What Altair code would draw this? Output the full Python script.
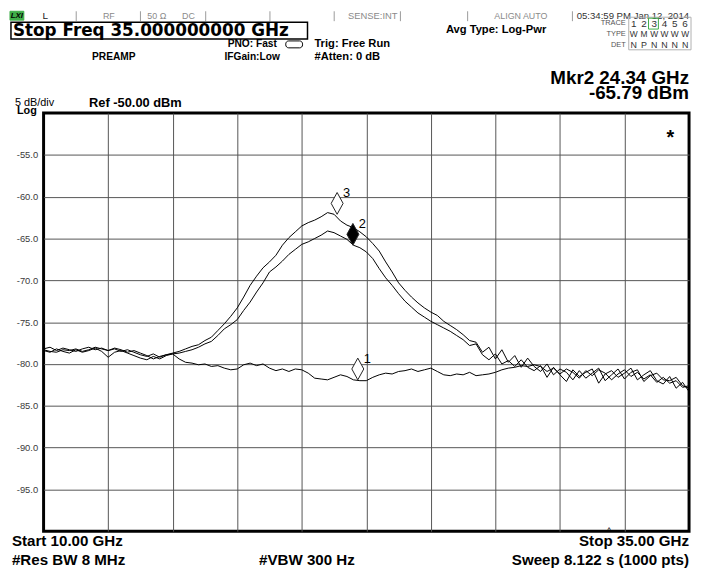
import altair as alt
import pandas as pd

FREQ_GHZ = [
    10.0, 10.25, 10.5, 10.75,
    11.0, 11.25, 11.5, 11.75,
    12.0, 12.25, 12.5, 12.75,
    13.0, 13.25, 13.5, 13.75,
    14.0, 14.25, 14.5, 14.75,
    15.0, 15.25, 15.5, 15.75,
    16.0, 16.25, 16.5, 16.75,
    17.0, 17.25, 17.5, 17.75,
    18.0, 18.25, 18.5, 18.75,
    19.0, 19.25, 19.5, 19.75,
    20.0, 20.25, 20.5, 20.75,
    21.0, 21.25, 21.5, 21.75,
    22.0, 22.25, 22.5, 22.75,
    23.0, 23.25, 23.5, 23.75,
    24.0, 24.25, 24.5, 24.75,
    25.0, 25.25, 25.5, 25.75,
    26.0, 26.25, 26.5, 26.75,
    27.0, 27.25, 27.5, 27.75,
    28.0, 28.25, 28.5, 28.75,
    29.0, 29.25, 29.5, 29.75,
    30.0, 30.25, 30.5, 30.75,
    31.0, 31.25, 31.5, 31.75,
    32.0, 32.25, 32.5, 32.75,
    33.0, 33.25, 33.5, 33.75,
    34.0, 34.25, 34.5, 34.75,
    35.0,
]

TRACE1 = [
    -78.3, -78.5, -78.6, -78.3,
    -78.4, -78.2, -78.5, -78.3,
    -78.0, -78.2, -78.4, -78.1,
    -78.3, -78.6, -78.4, -78.7,
    -79.0, -79.4, -79.1, -78.9,
    -78.8, -79.4, -79.8, -79.9,
    -80.1, -80.0, -80.3, -80.2,
    -80.5, -80.7, -80.6, -80.1,
    -79.9, -80.2, -80.0, -80.5,
    -80.8, -80.6, -80.9, -80.6,
    -80.7, -81.1, -81.7, -81.8,
    -81.9, -81.6, -81.3, -81.5,
    -81.9, -82.0, -82.0, -81.6,
    -81.3, -81.1, -81.2, -80.9,
    -80.8, -80.6, -80.9, -80.7,
    -80.5, -80.9, -81.3, -81.4,
    -81.2, -81.3, -81.0, -81.4,
    -81.3, -81.2, -81.0, -80.7,
    -80.5, -80.4, -80.2, -80.3,
    -80.1, -80.3, -80.9, -80.5,
    -81.2, -80.6, -81.0, -81.7,
    -80.8, -81.4, -80.7, -81.1,
    -81.9, -81.2, -80.7, -81.5,
    -81.0, -81.8, -81.3, -82.2,
    -81.6, -82.3, -82.0, -82.8,
    -82.6,
]

TRACE2 = [
    -78.4, -78.6, -78.2, -78.5,
    -78.7, -78.3, -78.6, -78.4,
    -78.1, -78.5, -79.2, -78.6,
    -78.4, -78.7, -79.0, -79.3,
    -79.5, -79.1, -79.4, -79.0,
    -78.8, -78.7, -78.5, -78.3,
    -78.0, -77.6, -77.3, -76.6,
    -75.8, -75.3, -74.7, -73.6,
    -72.6, -71.4, -70.3, -69.0,
    -68.4, -67.7, -66.9, -66.3,
    -65.7, -65.4, -65.0, -64.6,
    -64.1, -64.3, -64.7, -65.1,
    -65.8, -66.1, -66.6, -67.4,
    -68.6, -69.7, -70.6, -71.6,
    -72.5, -73.2, -73.9, -74.4,
    -74.9, -75.3, -75.7, -76.1,
    -76.6, -77.1, -77.8, -77.6,
    -78.9, -79.5, -78.8, -80.0,
    -79.6, -80.3, -79.5, -80.4,
    -80.8, -80.2, -81.6, -80.4,
    -81.3, -82.1, -80.7, -81.5,
    -81.0, -80.6, -82.3, -81.2,
    -80.8, -81.6, -81.1, -80.5,
    -81.9, -81.3, -80.8, -82.0,
    -82.4, -81.5, -82.9, -82.2,
    -83.3,
]

TRACE3 = [
    -78.2, -78.0, -78.4, -78.1,
    -78.3, -78.5, -78.2, -78.0,
    -78.3, -78.1, -78.4, -78.2,
    -78.5, -78.3, -78.6, -78.9,
    -79.1, -78.8, -79.2, -78.9,
    -78.7, -78.5, -78.2, -77.9,
    -77.7, -77.2, -76.8, -76.0,
    -75.2, -74.3, -73.3, -72.0,
    -70.6, -69.5, -68.5, -67.8,
    -67.0, -65.8, -64.9, -64.2,
    -63.5, -63.1, -62.8, -62.4,
    -61.9, -62.1, -62.9, -63.4,
    -63.7, -64.2, -64.8, -65.6,
    -66.5, -67.8, -69.0, -70.3,
    -71.2, -72.0, -72.7, -73.3,
    -73.8, -74.2, -74.9, -75.4,
    -75.9, -76.5, -77.2, -77.4,
    -78.6, -78.0, -79.4, -78.3,
    -79.8, -79.0, -80.4, -79.3,
    -80.3, -80.9, -80.0, -81.3,
    -80.6, -81.0, -81.9, -80.8,
    -81.7, -81.1, -80.5, -82.0,
    -81.3, -80.6, -81.8, -81.0,
    -80.7, -82.1, -81.4, -81.1,
    -81.9, -82.0, -81.6, -82.6,
    -82.9,
]

MARKER_NAMES = ["1", "2", "3"]
MARKER_FREQ = [22.17, 21.98, 21.37]
MARKER_LEVEL = [-81.9, -65.8, -62.1]
MARKER_FILL = ["white", "black", "white"]

Y_TICKS = [-55, -60, -65, -70, -75, -80, -85, -90, -95]
X_GRID = [12.5, 15.0, 17.5, 20.0, 22.5, 25.0, 27.5, 30.0, 32.5]

TRACE_NUMS = ["1", "2", "3", "4", "5", "6"]
TRACE_TYPES = ["W", "M", "W", "W", "W", "W"]
TRACE_DETS = ["N", "P", "N", "N", "N", "N"]

# ---------------- layout helpers ----------------
PX0, PY0 = 44, 111          # page position of the plot area's top-left corner
PLOT_W, PLOT_H = 653, 423
FONT = "Liberation Sans"
one = alt.InlineData(values=[{"k": 0}])


def text(s, x, y, size, weight="normal", align="left", color="#000000",
         style="normal", font=FONT):
    return alt.Chart(one).mark_text(
        text=s, align=align, baseline="middle", fontSize=size,
        fontWeight=weight, fontStyle=style, font=font, color=color,
    ).encode(x=alt.value(x - PX0), y=alt.value(y - PY0))


def vrule(x, y1, y2, color="#9a9a9a", width=1):
    return alt.Chart(one).mark_rule(color=color, strokeWidth=width).encode(
        x=alt.value(x - PX0), y=alt.value(y1 - PY0), y2=alt.value(y2 - PY0))


def box(x1, y1, x2, y2, stroke="#000000", fill="white", fill_opacity=0.0,
        width=1, radius=0):
    return alt.Chart(one).mark_rect(
        stroke=stroke, strokeWidth=width, fill=fill, fillOpacity=fill_opacity,
        cornerRadius=radius,
    ).encode(x=alt.value(x1 - PX0), x2=alt.value(x2 - PX0),
             y=alt.value(y1 - PY0), y2=alt.value(y2 - PY0))


# ---------------- traces ----------------
rows = []
for name, vals in (("Trace 1", TRACE1), ("Trace 2", TRACE2), ("Trace 3", TRACE3)):
    for f, v in zip(FREQ_GHZ, vals):
        rows.append({"freq": f, "level": v, "trace": name})
df = pd.DataFrame(rows)

mdf = pd.DataFrame({"name": MARKER_NAMES, "freq": MARKER_FREQ,
                    "level": MARKER_LEVEL, "fill": MARKER_FILL})

x_enc = alt.X("freq:Q", scale=alt.Scale(domain=[10, 35], nice=False, zero=False),
              axis=alt.Axis(values=X_GRID, labels=False, ticks=False, domain=False,
                            grid=True, gridColor="#555555", gridWidth=1, title=None))
y_enc = alt.Y("level:Q", scale=alt.Scale(domain=[-100, -50], nice=False, zero=False),
              axis=alt.Axis(values=Y_TICKS, labelExpr="'-' + format(-datum.value, '.1f')",
                            ticks=False, domain=False, grid=True, gridColor="#555555",
                            gridWidth=1, title=None, labelFont=FONT, labelFontSize=9.5,
                            labelColor="#3a3a3a", labelPadding=6))

lines = alt.Chart(df).mark_line(color="#000000", strokeWidth=1).encode(
    x=x_enc, y=y_enc, detail="trace:N")

DIAMOND = "M0,-2L0.55,-1L0,0L-0.55,-1Z"
markers = alt.Chart(mdf).mark_point(
    shape=DIAMOND, size=484, filled=True, stroke="#222222", strokeWidth=1, opacity=1
).encode(x="freq:Q", y="level:Q", fill=alt.Fill("fill:N", scale=None))

marker_labels = alt.Chart(mdf).mark_text(
    align="left", baseline="middle", dx=6, dy=-21, fontSize=13, font=FONT, color="#000000"
).encode(x="freq:Q", y="level:Q", text="name:N")

# ---------------- screen annotations ----------------
ann = []
# status bar
ann.append(box(10, 8, 24, 17, stroke="#3fae49", fill="#3fae49", fill_opacity=1))
ann.append(text("LXI", 17, 12.5, 8, weight="bold", align="center", style="italic"))
for sx in [77, 142, 208, 273, 338, 405, 473, 579]:
    ann.append(vrule(sx, 8, 18))
ann.append(text("L", 43, 13, 10, color="#222222"))
ann.append(text("RF", 104, 13, 9, color="#8a8a8a"))
ann.append(text("50 Ω", 149, 13, 9, color="#8a8a8a"))
ann.append(text("DC", 184, 13, 9, color="#8a8a8a"))
ann.append(text("SENSE:INT", 352, 13, 9.5, color="#8a8a8a"))
ann.append(text("ALIGN AUTO", 500, 13, 9, color="#8a8a8a"))
ann.append(text("05:34:59 PM Jan 12, 2014", 697, 13, 9.7, align="right", color="#333333"))

# stop-frequency entry box
ann.append(box(11, 19, 311, 36, stroke="#000000", width=1.5))
ann.append(text("Stop Freq 35.000000000 GHz", 13, 28, 17, weight="bold",
                font="DejaVu Sans"))

# acquisition settings
ann.append(text("PNO: Fast", 280, 41, 10.3, weight="bold", align="right"))
ann.append(box(289, 38, 306, 45, stroke="#000000", width=1, radius=3))
ann.append(text("PREAMP", 93, 54, 10.3, weight="bold"))
ann.append(text("IFGain:Low", 283, 54, 10.3, weight="bold", align="right"))
ann.append(text("Trig: Free Run", 318, 41, 11.3, weight="bold"))
ann.append(text("#Atten: 0 dB", 318, 54, 11.3, weight="bold"))
ann.append(text("Avg Type: Log-Pwr", 451, 27, 11.3, weight="bold"))

# trace/type/detector table
ann.append(box(636, 14, 699, 47, stroke="#b0b0b0", width=1))
ann.append(box(656, 15, 666, 26, stroke="#3fae49", width=1))
ann.append(text("TRACE", 633, 20, 7.5, align="right", color="#555555"))
ann.append(text("TYPE", 633, 31, 7.5, align="right", color="#555555"))
ann.append(text("DET", 633, 42, 7.5, align="right", color="#555555"))
for i, (n, t, d) in enumerate(zip(TRACE_NUMS, TRACE_TYPES, TRACE_DETS)):
    cx = 641 + i * 10.4
    ann.append(text(n, cx, 20.5, 10, align="center", color="#333333"))
    ann.append(text(t, cx, 31, 8.5, align="center", color="#333333"))
    ann.append(text(d, cx, 42, 9, align="center", color="#333333"))

# marker readout
ann.append(text("Mkr2 24.34 GHz", 697, 76, 19, weight="bold", align="right"))
ann.append(text("-65.79 dBm", 697, 91, 19, weight="bold", align="right"))

# scale info
ann.append(text("5 dB/div", 15, 100.5, 11))
ann.append(text("Log", 17, 109, 11, weight="bold"))
ann.append(text("Ref -50.00 dBm", 90, 101, 13, weight="bold"))

# star in plot
ann.append(text("*", 678, 136, 20, weight="bold", align="center"))

# footer
ann.append(text("Start 10.00 GHz", 12, 544, 15.3, weight="bold"))
ann.append(text("#Res BW 8 MHz", 12, 563, 15.3, weight="bold"))
ann.append(text("#VBW 300 Hz", 262, 563, 15.3, weight="bold"))
ann.append(text("Stop 35.00 GHz", 697, 544, 15.3, weight="bold", align="right"))
ann.append(text("^", 616, 534, 9, align="center"))
ann.append(text("Sweep  8.122 s (1000 pts)", 697, 563, 15.3, weight="bold", align="right"))

chart = alt.layer(lines, markers, marker_labels, *ann).properties(
    width=PLOT_W, height=PLOT_H,
    autosize=alt.AutoSizeParams(type="none"),
    padding={"left": 36, "top": 103, "right": 4, "bottom": 41},
    background="white",
).configure_view(stroke="#000000", strokeWidth=3)

chart.save("out.html", embed_options={"renderer": "svg", "actions": False})
